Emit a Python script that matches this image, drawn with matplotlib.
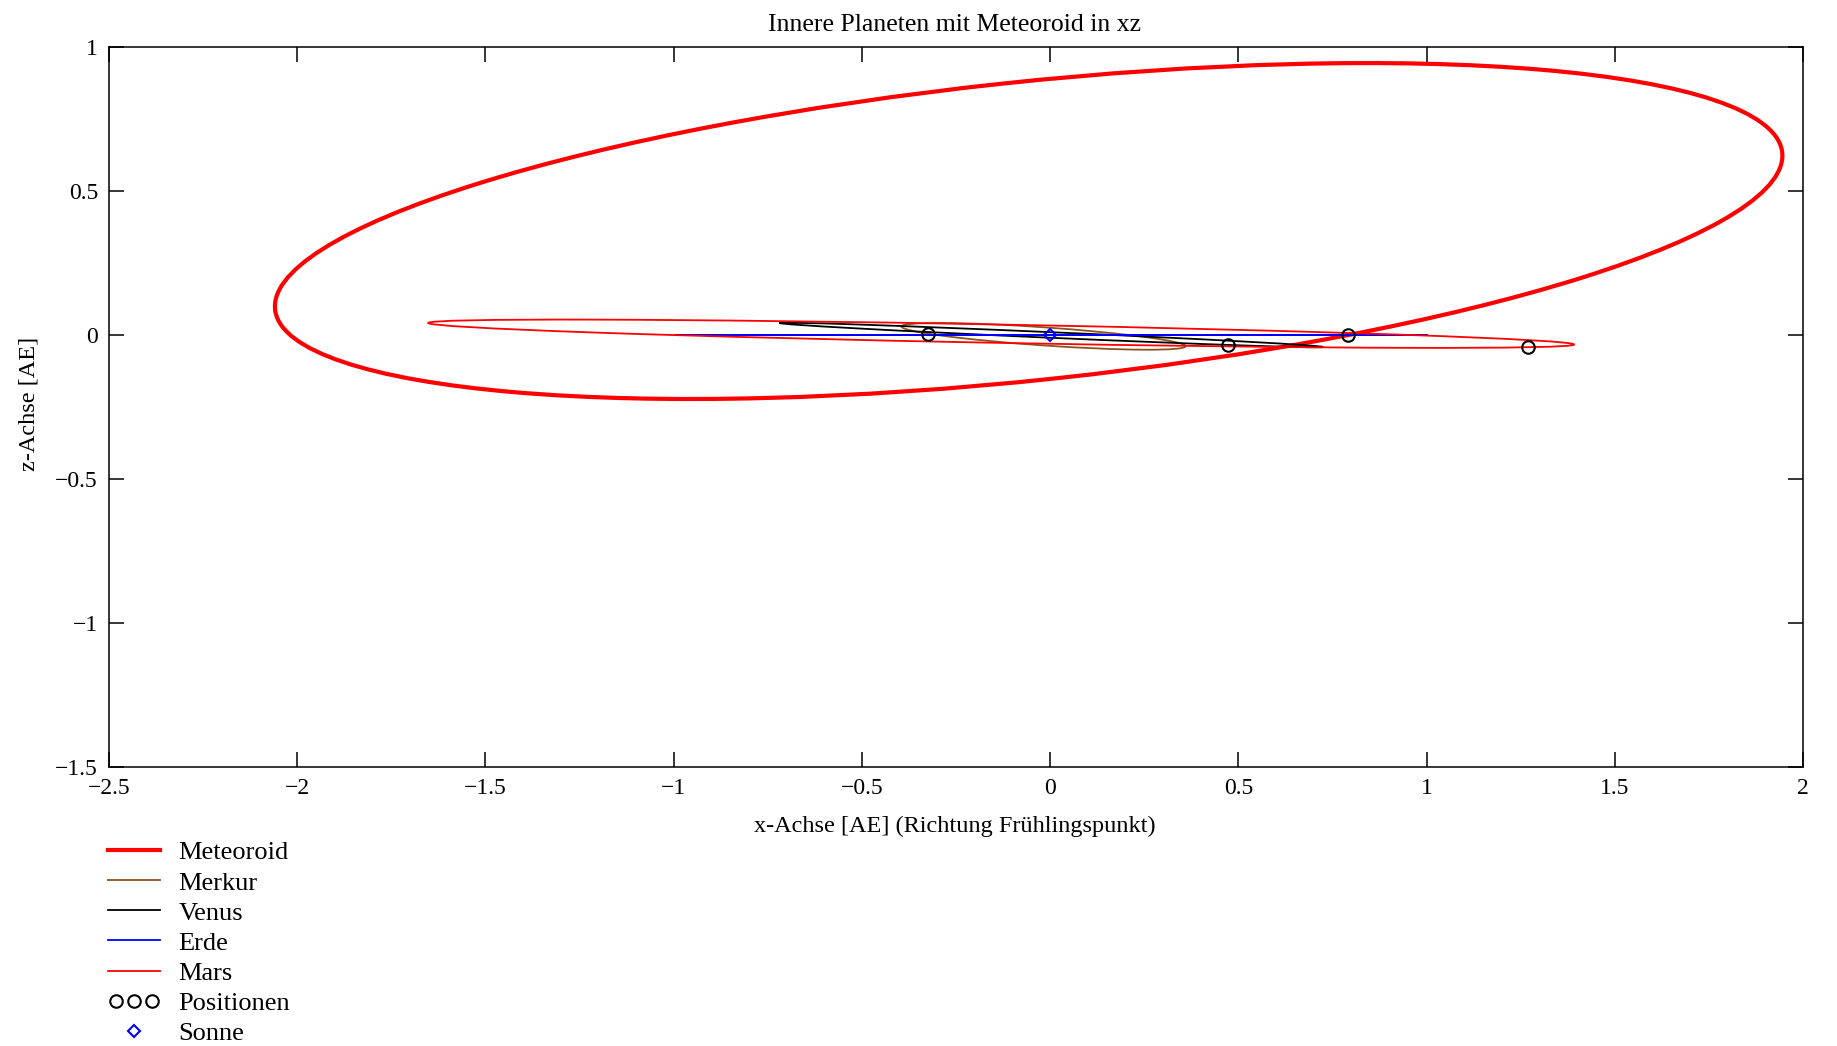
import numpy as np
import matplotlib
matplotlib.use("Agg")
import matplotlib.pyplot as plt
from matplotlib.patches import Ellipse
from matplotlib.lines import Line2D
from matplotlib.legend_handler import HandlerLine2D

plt.rcParams['font.family'] = ['Liberation Serif', 'DejaVu Serif']

# Bahnen als Ellipsen in der xz-Ebene
names = ["Meteoroid", "Merkur", "Venus", "Erde", "Mars"]
center_x = [-0.057, -0.0175, 0.003, 0.004, -0.130]
center_z = [0.361, -0.0047, 0.0, 0.0, 0.0044]
width = [4.041, 0.758, 1.447, 2.0, 3.045]
height = [1.033, 0.0627, 0.0194, 0.0001, 0.0636]
angle = [7.97, -5.2, -3.3, 0.0, -1.41]
colors = ["#ff0000", "#8c5520", "#000000", "#0000ff", "#ff0000"]
widths_lw = [3.0, 1.3, 1.3, 1.3, 1.3]

# Positionen der Planeten
pos_x = [-0.324, 0.472, 0.790, 1.269]
pos_z = [0.004, -0.033, 0.0, -0.041]

# Sonne
sun_x = [0.0]
sun_z = [0.0]

x_ticks = [-2.5, -2, -1.5, -1, -0.5, 0, 0.5, 1, 1.5, 2]
z_ticks = [-1.5, -1, -0.5, 0, 0.5, 1]


def fmt(v):
    return f"{v:g}".replace("-", "\u2212")


fig = plt.figure(figsize=(18.37, 10.46), dpi=100)
ax = fig.add_axes([109 / 1837, 1 - 767 / 1046, 1694 / 1837, 720 / 1046])

handles = []
for i in range(len(names)):
    e = Ellipse((center_x[i], center_z[i]), width[i], height[i], angle=angle[i],
                fill=False, edgecolor=colors[i], linewidth=widths_lw[i], zorder=2 + i)
    ax.add_patch(e)
    handles.append(Line2D([], [], color=colors[i], lw=widths_lw[i], label=names[i]))

pos_line, = ax.plot(pos_x, pos_z, 'o', mfc='none', mec='black', mew=1.5, ms=9,
                    label="Positionen", zorder=10)
sun_line, = ax.plot(sun_x, sun_z, 'D', mfc='none', mec='blue', mew=1.5, ms=6,
                    label="Sonne", zorder=11)
handles += [pos_line, sun_line]

ax.set_xlim(-2.5, 2)
ax.set_ylim(-1.5, 1)
ax.set_xticks(x_ticks)
ax.set_xticklabels([fmt(v) for v in x_ticks])
ax.set_yticks(z_ticks)
ax.set_yticklabels([fmt(v) for v in z_ticks])
ax.tick_params(direction='in', length=11, width=1.1, top=True, right=True,
               labelsize=17, pad=8)
for s in ax.spines.values():
    s.set_linewidth(1.1)

fig.text(955 / 1837, 1 - 25 / 1046, "Innere Planeten mit Meteoroid in xz",
         ha='center', va='center', fontsize=18.5)
fig.text(955 / 1837, 1 - 826 / 1046, "x-Achse [AE] (Richtung Frühlingspunkt)",
         ha='center', va='center', fontsize=17.5)
fig.text(29 / 1837, 1 - 404 / 1046, "z-Achse [AE]", rotation=90,
         ha='center', va='center', fontsize=17.5)

fig.legend(handles=handles, loc='upper left',
           bbox_to_anchor=(108 / 1837, 1 - 841 / 1046),
           frameon=False, fontsize=19, borderpad=0, borderaxespad=0,
           handlelength=1.97, handletextpad=0.7, labelspacing=0.25,
           handler_map={pos_line: HandlerLine2D(numpoints=3)})

fig.savefig("out.png", dpi=100)
